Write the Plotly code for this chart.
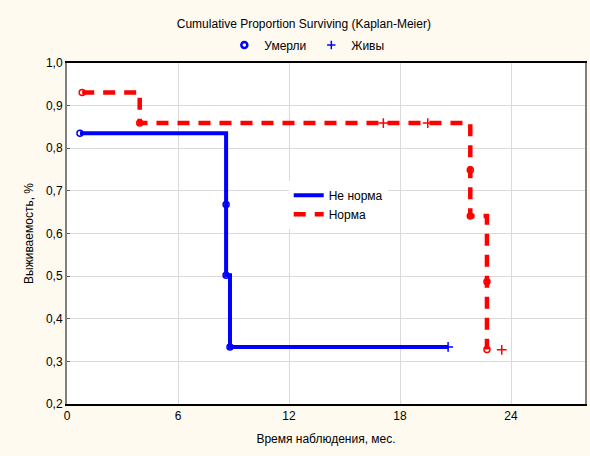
import plotly.graph_objects as go

# --- data ---
blue_name = "Не норма"
blue_t = [0.70, 8.60, 8.60, 8.81, 20.60]
blue_s = [0.835, 0.668, 0.502, 0.334, 0.334]
blue_event_t = [0.70, 8.60, 8.60, 8.81]
blue_event_s = [0.835, 0.668, 0.502, 0.334]
blue_cens_t = [20.60]
blue_cens_s = [0.334]

red_name = "Норма"
red_t = [0.82, 3.93, 21.80, 21.80, 22.70, 22.70]
red_s = [0.931, 0.859, 0.749, 0.641, 0.487, 0.328]
red_event_t = [0.82, 3.93, 21.80, 21.80, 22.70, 22.70]
red_event_s = [0.931, 0.859, 0.749, 0.641, 0.487, 0.328]
red_cens_t = [17.10, 19.50, 23.50]
red_cens_s = [0.859, 0.859, 0.327]

x_ticks = [0, 6, 12, 18, 24]
y_ticks = [0.2, 0.3, 0.4, 0.5, 0.6, 0.7, 0.8, 0.9, 1.0]

BLUE = "#0000FF"
RED = "#FF0000"
FONT = "Liberation Sans, Arial, sans-serif"

fig = go.Figure()

fig.add_trace(go.Scatter(x=blue_t, y=blue_s, mode="lines", line_shape="hv",
                         line=dict(color=BLUE, width=4), name=blue_name))
fig.add_trace(go.Scatter(x=red_t, y=red_s, mode="lines", line_shape="hv",
                         line=dict(color=RED, width=4.5, dash="12px,9px"), name=red_name))

fig.add_trace(go.Scatter(x=blue_event_t, y=blue_event_s, mode="markers", showlegend=False,
                         marker=dict(symbol="circle-open", size=6, color=BLUE, line=dict(width=1.5))))
fig.add_trace(go.Scatter(x=red_event_t, y=red_event_s, mode="markers", showlegend=False,
                         marker=dict(symbol="circle-open", size=6, color=RED, line=dict(width=1.5))))
fig.add_trace(go.Scatter(x=blue_cens_t, y=blue_cens_s, mode="markers", showlegend=False,
                         marker=dict(symbol="cross-thin", size=7, color=BLUE, line=dict(width=1.5, color=BLUE))))
fig.add_trace(go.Scatter(x=red_cens_t, y=red_cens_s, mode="markers", showlegend=False,
                         marker=dict(symbol="cross-thin", size=7, color=RED, line=dict(width=1.5, color=RED))))

# top legend (marker key)
fig.add_trace(go.Scatter(x=[None], y=[None], mode="markers", name="Умерли", legend="legend2",
                         marker=dict(symbol="circle-open", size=6, color=BLUE, line=dict(width=2.5))))
fig.add_trace(go.Scatter(x=[None], y=[None], mode="markers", name="Живы", legend="legend2",
                         marker=dict(symbol="cross-thin", size=6, color=BLUE, line=dict(width=1.5, color=BLUE))))

fig.update_layout(
    width=590, height=456,
    margin=dict(l=67, r=3, t=63, b=52),
    paper_bgcolor="#FEFAF0",
    plot_bgcolor="#FFFFFF",
    separators=", ",
    font=dict(family=FONT, size=12, color="#000000"),
    title=dict(text="Cumulative Proportion Surviving (Kaplan-Meier)", x=0.515, xanchor="center",
               y=0.948, yanchor="middle", font=dict(size=12)),
    legend=dict(x=0.428, y=0.655, xanchor="left", yanchor="top", bgcolor="#FFFFFF",
                font=dict(size=12), itemwidth=30, tracegroupgap=0),
    legend2=dict(orientation="h", x=0.463, y=1.053, xanchor="center", yanchor="middle",
                 bgcolor="rgba(0,0,0,0)", font=dict(size=12), itemwidth=30),
    showlegend=True,
)

fig.update_xaxes(range=[0, 28], tickvals=x_ticks, showgrid=True, gridcolor="#DADADA", gridwidth=1,
                 zeroline=False, showline=True, linecolor="#000000", linewidth=1.5, mirror=True,
                 ticks="", title=dict(text="Время наблюдения, мес.", font=dict(size=12), standoff=12))
fig.update_yaxes(range=[0.2, 1.0], tickvals=y_ticks, tickformat=".1f", showgrid=True,
                 gridcolor="#DADADA", gridwidth=1, zeroline=False, showline=True,
                 linecolor="#808080", linewidth=2, mirror=True, ticks="inside", ticklen=3,
                 tickcolor="#606060",
                 title=dict(text="Выживаемость, %", font=dict(size=12), standoff=10))

fig.write_html("out.html")
